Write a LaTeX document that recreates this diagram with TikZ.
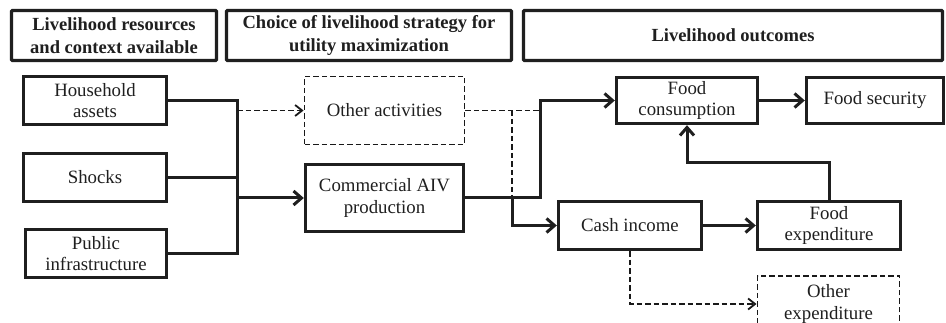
\documentclass[tikz,border=0pt]{standalone}
\usepackage{fontspec}
\setmainfont{Liberation Serif}
\usetikzlibrary{arrows.meta}
\begin{document}
\begin{tikzpicture}[x=1pt,y=-1pt,
 every node/.style={inner sep=0pt, align=center, text=black!88, font=\fontsize{18.8}{21.5}\selectfont},
 hdr/.style={draw=black!88, line width=3.4pt, rounded corners=1pt, font=\bfseries\fontsize{18.5}{22.5}\selectfont},
 box/.style={draw=black!88, line width=3.4pt},
 dbox/.style={draw=black!90, line width=1.9pt, dash pattern=on 5.5pt off 3pt},
 conn/.style={draw=black!88, line width=3pt},
 carrow/.style={conn, -{Straight Barb[length=8pt,width=14pt]}},
 dconn/.style={draw=black!90, line width=1.8pt, dash pattern=on 5.5pt off 3pt},
 darrow/.style={dconn, -{Straight Barb[length=7pt,width=11pt]}},
]
\clip (0,0) rectangle (946,323);
\fill[white] (0,0) rectangle (946,323);
% headers
\node[hdr, minimum width=205pt, minimum height=50pt] (h1) at (114,35.5) {Livelihood resources\\and context available};
\node[hdr, minimum width=285pt, minimum height=50pt] (h2) at (369,35.5) {Choice of livelihood strategy for\\utility maximization};
\node[hdr, minimum width=419pt, minimum height=50pt] (h3) at (733,35.5) {Livelihood outcomes};
% left column
\node[box, minimum width=143pt, minimum height=48pt] (hh) at (95,100.5) {Household\\assets};
\node[box, minimum width=143pt, minimum height=48pt] (sh) at (95,177.5) {Shocks};
\node[box, minimum width=141pt, minimum height=48pt] (pi) at (96,253.5) {Public\\infrastructure};
% middle
\node[dbox, minimum width=160pt, minimum height=68pt] (oa) at (384.5,110.5) {Other activities};
\node[box, minimum width=158pt, minimum height=67pt] (ca) at (384.5,198) {Commercial AIV\\production};
% right
\node[box, minimum width=141pt, minimum height=46pt] (fc) at (687,100.5) {Food\\consumption};
\node[box, minimum width=137pt, minimum height=46pt] (fs) at (875,100.5) {Food security};
\node[box, minimum width=143pt, minimum height=48pt] (ci) at (630,225.5) {Cash income};
\node[box, minimum width=143pt, minimum height=48pt] (fe) at (829,225.5) {Food\\expenditure};
\node[dbox, minimum width=142pt, minimum height=56pt] (oe) at (828.5,304) {Other\\expenditure};
% connectors
\coordinate (j) at (237,0);
\coordinate (k1) at (512,0);
\coordinate (k2) at (540,0);
\coordinate (m) at (0,163);
\draw[conn] (hh.east) -- (hh.east -| j) -- (pi.east -| j) -- (pi.east);
\draw[conn] (sh.east) -- (sh.east -| j);
\draw[carrow] (ca.west -| j) -- (ca.west);
\draw[darrow] (oa.west -| j) -- (oa.west);
\draw[dconn] (oa.east) -- (oa.east -| k2);
\draw[dconn] (oa.east -| k1) -- (ca.east -| k1);
\draw[carrow] (ca.east) -- (ca.east -| k2) -- (fc.west -| k2) -- (fc.west);
\draw[carrow] (ca.east -| k1) -- (ci.west -| k1) -- (ci.west);
\draw[carrow] (ci.east) -- (fe.west);
\draw[carrow] (fc.east) -- (fs.west);
\draw[carrow] (fe.north) -- (fe.north |- m) -- (fc.south |- m) -- (fc.south);
\draw[darrow] (ci.south) -- (ci.south |- oe.west) -- (oe.west);
\end{tikzpicture}
\end{document}
